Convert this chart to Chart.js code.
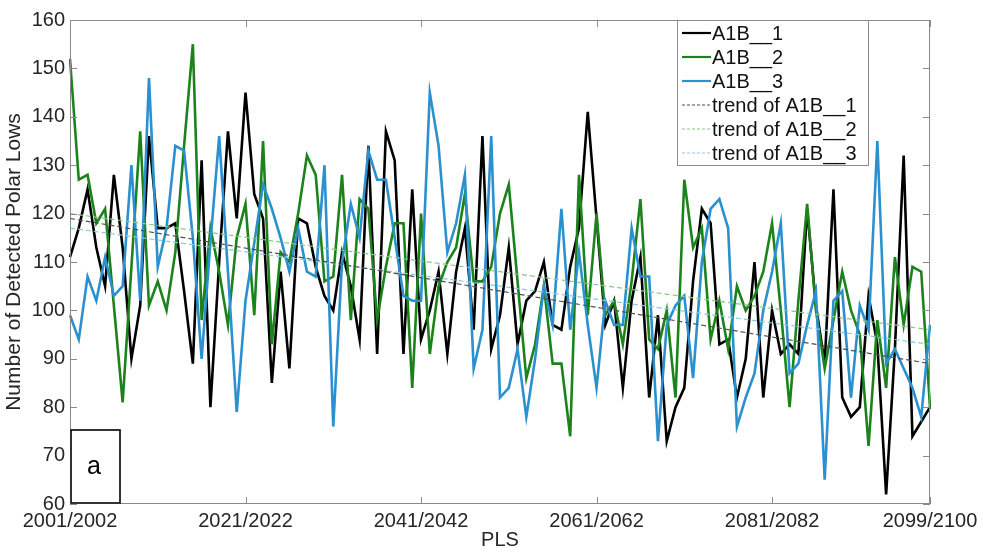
<!DOCTYPE html>
<html>
<head>
<meta charset="utf-8">
<script src="https://cdn.jsdelivr.net/npm/chart.js@4.4.0/dist/chart.umd.min.js"></script>
<style>
  html, body { margin: 0; padding: 0; background: #fff; }
  #wrap { width: 983px; height: 552px; position: relative; }
</style>
</head>
<body>
<div id="wrap"><canvas id="chart" width="983" height="552"></canvas></div>
<script>
// Seasons 2001/2002 ... 2099/2100
const firstSeason = 2001;
const seasonCount = 99;
const seasons = [];
for (let i = 0; i < seasonCount; i++) {
  seasons.push(firstSeason + i + "/" + (firstSeason + i + 1));
}
const shownSeasons = ["2001/2002", "2021/2022", "2041/2042", "2061/2062", "2081/2082", "2099/2100"];
const yTicks = [60, 70, 80, 90, 100, 110, 120, 130, 140, 150, 160];

// Number of detected polar lows per season
const a1b1 = [
  111, 117, 125, 113, 105, 128, 113, 90, 101, 136,
  117, 117, 118, 104, 89, 131, 80, 110, 137, 119,
  145, 124, 119, 85, 108, 88, 119, 118, 109, 103,
  100, 112, 105, 94, 134, 91, 137, 131, 91, 125,
  94, 100, 108, 91, 108, 117, 96, 136, 92, 99,
  113, 93, 102, 104, 110, 97, 96, 109, 117, 141,
  119, 97, 102, 84, 102, 111, 82, 99, 73, 80,
  84, 106, 121, 118, 93, 94, 82, 90, 110, 82,
  100, 91, 93, 91, 121, 101, 89, 125, 82, 78,
  80, 103, 93, 62, 92, 132, 74, 77, 80,
];
const a1b2 = [
  152, 127, 128, 118, 121, 101, 81, 109, 137, 101,
  106, 100, 112, 134, 155, 98, 117, 108, 97, 115,
  122, 99, 135, 93, 112, 110, 120, 132, 128, 106,
  107, 128, 98, 123, 121, 98, 109, 118, 118, 84,
  120, 91, 105, 110, 113, 124, 106, 106, 109, 120,
  126, 106, 86, 93, 105, 89, 89, 74, 128, 99,
  120, 99, 102, 93, 106, 123, 94, 92, 100, 82,
  127, 113, 117, 94, 102, 92, 105, 100, 103, 108,
  118, 100, 80, 102, 122, 100, 88, 98, 108, 100,
  95, 72, 98, 84, 111, 97, 109, 108, 80,
];
const a1b3 = [
  99, 94, 107, 102, 111, 103, 105, 130, 102, 148,
  109, 117, 134, 133, 115, 90, 114, 136, 108, 79,
  102, 114, 126, 121, 115, 108, 117, 108, 107, 130,
  76, 110, 122, 115, 133, 127, 127, 115, 103, 102,
  102, 145, 134, 112, 118, 128, 88, 96, 136, 82,
  84, 92, 78, 90, 105, 97, 121, 96, 112, 97,
  84, 102, 97, 97, 117, 107, 107, 73, 97, 101,
  103, 86, 110, 121, 123, 117, 76, 82, 87, 100,
  108, 118, 87, 89, 97, 104, 65, 102, 104, 82,
  101, 96, 135, 89, 92, 88, 84, 78, 97,
];

// Trend lines: value at first and last season
const trend1 = [119, 89];
const trend2 = [120, 96];
const trend3 = [117, 93];

const FONT = "'Liberation Sans', Arial, sans-serif";
const TEXT = "#262626";

const colors = {
  a1b1: "#000000",
  a1b2: "#1c821c",
  a1b3: "#2a90cf",
  trend1: "#505050",
  trend2: "#86c886",
  trend3: "#8ac8dc",
};

const endPoints = (t) =>
  seasons.map((_, i) => (i === 0 ? t[0] : i === seasons.length - 1 ? t[1] : null));

const seriesStyle = (label, data, color, order) => ({
  label,
  data,
  borderColor: color,
  backgroundColor: color,
  borderWidth: 2.6,
  pointRadius: 0,
  tension: 0,
  fill: false,
  order,
});

const trendStyle = (label, t, color) => ({
  label,
  data: endPoints(t),
  borderColor: color,
  backgroundColor: color,
  borderWidth: 1.2,
  borderDash: [5, 3],
  pointRadius: 0,
  spanGaps: true,
  fill: false,
  order: 0,
});

// Frame, inner tick marks, "a" panel tag and the boxed legend
const decorations = {
  id: "decorations",
  afterDatasetsDraw(chart) {
    const { ctx, chartArea: a, scales } = chart;
    const { x, y } = scales;
    const line = (x1, y1, x2, y2) => {
      ctx.beginPath();
      ctx.moveTo(x1, y1);
      ctx.lineTo(x2, y2);
      ctx.stroke();
    };
    ctx.save();
    ctx.strokeStyle = "#8a8a8a";
    ctx.lineWidth = 1;
    ctx.strokeRect(a.left + 0.5, a.top + 0.5, a.width - 1, a.height - 1);

    yTicks.forEach((v) => {
      const py = Math.round(y.getPixelForValue(v)) + 0.5;
      line(a.left, py, a.left + 7, py);
      line(a.right - 7, py, a.right, py);
    });
    shownSeasons.forEach((s) => {
      const px = Math.round(x.getPixelForValue(seasons.indexOf(s))) + 0.5;
      line(px, a.top, px, a.top + 7);
      line(px, a.bottom - 7, px, a.bottom);
    });

    // panel tag
    ctx.fillStyle = "#fff";
    ctx.fillRect(a.left, 430, 50, a.bottom - 430);
    ctx.strokeStyle = "#000";
    ctx.lineWidth = 1.6;
    ctx.strokeRect(a.left + 1, 430, 49, a.bottom - 431);
    ctx.fillStyle = "#000";
    ctx.font = "25px " + FONT;
    ctx.textAlign = "center";
    ctx.textBaseline = "middle";
    ctx.fillText("a", a.left + 24, 467);
    ctx.restore();
  },
  afterDraw(chart) {
    const { ctx } = chart;
    const box = { left: 677, top: 20, width: 191, height: 145 };
    ctx.save();
    ctx.fillStyle = "#fff";
    ctx.fillRect(box.left, box.top, box.width, box.height);
    ctx.strokeStyle = "#8a8a8a";
    ctx.lineWidth = 1;
    ctx.strokeRect(box.left + 0.5, box.top + 0.5, box.width, box.height);
    ctx.font = "20px " + FONT;
    ctx.textAlign = "left";
    ctx.textBaseline = "middle";
    chart.data.datasets.forEach((ds, i) => {
      const ly = box.top + 13 + i * 24;
      ctx.strokeStyle = ds.borderColor;
      ctx.lineWidth = ds.borderDash ? 1.2 : 2.2;
      ctx.setLineDash(ds.borderDash ? [3, 2] : []);
      ctx.beginPath();
      ctx.moveTo(box.left + 5, ly);
      ctx.lineTo(box.left + 34, ly);
      ctx.stroke();
      ctx.setLineDash([]);
      ctx.fillStyle = "#111";
      ctx.fillText(ds.label, box.left + 35, ly + 1);
    });
    ctx.restore();
  },
};

const ctx = document.getElementById("chart").getContext("2d");
new Chart(ctx, {
  type: "line",
  data: {
    labels: seasons,
    datasets: [
      seriesStyle("A1B__1", a1b1, colors.a1b1, 3),
      seriesStyle("A1B__2", a1b2, colors.a1b2, 2),
      seriesStyle("A1B__3", a1b3, colors.a1b3, 1),
      trendStyle("trend of A1B__1", trend1, colors.trend1),
      trendStyle("trend of A1B__2", trend2, colors.trend2),
      trendStyle("trend of A1B__3", trend3, colors.trend3),
    ],
  },
  options: {
    responsive: false,
    animation: false,
    devicePixelRatio: 1,
    layout: { padding: { left: 0, right: 53, top: 20, bottom: 0 } },
    plugins: {
      legend: { display: false },
      tooltip: { enabled: false },
    },
    scales: {
      x: {
        type: "category",
        offset: false,
        grid: { display: false, drawTicks: false },
        border: { display: false },
        ticks: {
          autoSkip: false,
          maxRotation: 0,
          minRotation: 0,
          padding: 5,
          color: TEXT,
          font: { family: FONT, size: 20 },
          callback: (val, idx) => (shownSeasons.includes(seasons[idx]) ? seasons[idx] : null),
        },
        title: {
          display: true,
          text: "PLS",
          color: TEXT,
          font: { family: FONT, size: 20 },
          padding: { top: 0, bottom: 0 },
        },
        afterFit: (scale) => {
          scale.height = 48;
        },
      },
      y: {
        min: 60,
        max: 160,
        grid: { display: false, drawTicks: false },
        border: { display: false },
        ticks: {
          stepSize: 10,
          padding: 5,
          color: TEXT,
          font: { family: FONT, size: 20 },
        },
        title: {
          display: true,
          text: "Number of Detected Polar Lows",
          color: TEXT,
          font: { family: FONT, size: 21 },
          padding: { top: 2, bottom: 0 },
        },
        afterFit: (scale) => {
          scale.width = 70;
        },
      },
    },
  },
  plugins: [decorations],
});
</script>
</body>
</html>
